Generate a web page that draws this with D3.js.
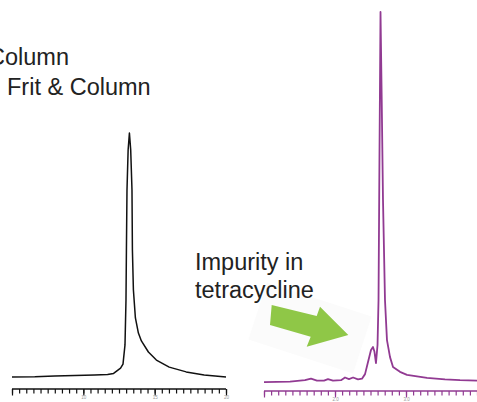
<!DOCTYPE html>
<html>
<head>
<meta charset="utf-8">
<script src="https://cdn.jsdelivr.net/npm/d3@7"></script>
<style>
  body { margin: 0; background: #fff; }
  svg { display: block; }
  text { font-family: "Liberation Sans", Arial, sans-serif; }
</style>
</head>
<body>
<svg width="477" height="402"></svg>
<script>
/* chromatogram traces: [time, signal] */
var columnTime   = [5.00, 6.60, 8.00, 9.40, 10.79, 11.70, 12.12, 12.40, 12.61, 12.78, 12.92, 12.99, 13.02, 13.06, 13.14, 13.23,
                    13.32, 13.41, 13.44, 13.51, 13.65, 13.86, 14.07, 14.56, 15.12, 16.02, 17.21, 18.47, 20.00];
var columnSignal = [3.2, 3.3, 3.6, 3.8, 4.0, 4.2, 4.6, 5.8, 6.7, 8.3, 15.9, 33.7, 53.6, 77.4, 93.3, 100,
                    93.3, 77.4, 53.6, 37.7, 26.6, 20.6, 17.5, 13.1, 9.9, 7.1, 5.2, 4.0, 3.2];

var impurityTime   = [1.000, 1.366, 1.577, 1.662, 1.746, 1.845, 1.901, 1.972, 2.085, 2.141, 2.197, 2.254, 2.324, 2.380,
                      2.423, 2.465, 2.507, 2.535, 2.556, 2.577, 2.599, 2.613, 2.627, 2.641, 2.658, 2.676, 2.704, 2.732,
                      2.775, 2.817, 2.915, 3.014, 3.296, 3.549, 3.761, 4.000];
var impuritySignal = [2.1, 2.2, 2.6, 3.0, 2.5, 2.5, 2.9, 2.5, 2.6, 3.3, 2.9, 3.3, 2.8, 3.0,
                      4.2, 7.4, 10.6, 11.4, 10.1, 7.1, 11.9, 23.8, 63.5, 100, 76.7, 50.3, 23.8, 13.2,
                      8.7, 6.1, 4.8, 4.0, 3.2, 2.8, 2.6, 2.5];

var leftTicks  = [10, 15, 20];
var rightTicks = [2.0, 3.0];

var svg = d3.select("svg");

/* little helper that draws one trace + its time axis */
function drawPanel(times, signal, xDomain, xRange, yRange, axisY, color, width, majors, minorStep, fmt) {
  var x = d3.scaleLinear().domain(xDomain).range(xRange);
  var y = d3.scaleLinear().domain([0, 100]).range(yRange);
  var pts = times.map(function(t, i){ return [t, signal[i]]; });

  svg.append("path")
    .datum(pts)
    .attr("fill", "none")
    .attr("stroke", color)
    .attr("stroke-width", width)
    .attr("stroke-linejoin", "round")
    .attr("d", d3.line().x(function(d){ return x(d[0]); }).y(function(d){ return y(d[1]); }));

  var minors = d3.range(xDomain[0], xDomain[1] + minorStep / 2, minorStep);
  var g = svg.append("g").attr("transform", "translate(0," + axisY + ")");
  g.call(d3.axisBottom(x).tickValues(minors).tickSize(4.5).tickFormat(""));
  g.select(".domain").remove();
  g.selectAll("line").attr("stroke", color).attr("stroke-width", 1.2);

  var gm = svg.append("g").attr("transform", "translate(0," + axisY + ")");
  gm.call(d3.axisBottom(x).tickValues(majors.concat([xDomain[0]])).tickSize(6.5).tickPadding(0).tickFormat(function(d){
    return d === xDomain[0] ? "" : fmt(d);
  }));
  gm.select(".domain").attr("stroke", color).attr("stroke-width", 1.6).attr("d", "M" + xRange[0] + ",0H" + xRange[1]);
  gm.selectAll("line").attr("stroke", color).attr("stroke-width", 1.2);
  gm.selectAll("text").attr("fill", "#999").style("font-size", "4.5px");
}

drawPanel(columnTime, columnSignal, [5, 20], [12, 226], [385, 133], 389, "#111", 1.5,
  leftTicks, 0.5, d3.format("d"));
drawPanel(impurityTime, impuritySignal, [1, 4], [264, 477], [390, 12], 391, "#913a92", 1.8,
  rightTicks, 0.1, d3.format(".1f"));

/* faint shadow + green arrow */
svg.append("rect")
  .attr("x", -55).attr("y", -30).attr("width", 110).attr("height", 60)
  .attr("transform", "translate(310,328) rotate(18)")
  .attr("fill", "#fbfbfb");
svg.append("polygon")
  .attr("points", "271.7,305 316.7,316 320,306.7 348.3,335 306.7,346.7 310.7,336.7 270,325")
  .attr("fill", "#8fc747");

/* labels */
var lab = svg.append("g").attr("fill", "#222").style("font-size", "23.5px");
lab.append("text").attr("x", -12).attr("y", 65).text("Column");
lab.append("text").attr("x", 7).attr("y", 95).text("Frit & Column");
lab.append("text").attr("x", 195).attr("y", 270).text("Impurity in");
lab.append("text").attr("x", 195).attr("y", 298).text("tetracycline");
</script>
</body>
</html>
